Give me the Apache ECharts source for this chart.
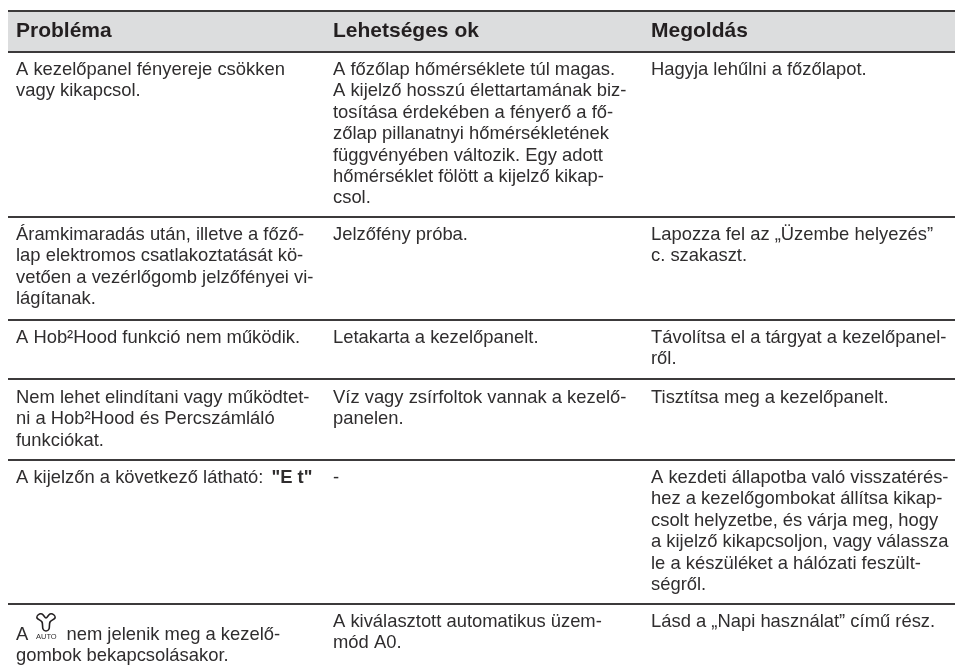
<!DOCTYPE html>
<html>
<head>
<meta charset="utf-8">
<style>html,body{margin:0;padding:0;background:#fff}#main{width:955px;height:672px}</style>
<script src="https://cdn.jsdelivr.net/npm/echarts@6/dist/echarts.min.js"></script>
</head>
<body>
<div id="main"></div>
<script>
const headers = ["Probléma", "Lehetséges ok", "Megoldás"];

// each row: [col lines]
const problems = [
  ["A kezelőpanel fényereje csökken", "vagy kikapcsol."],
  ["Áramkimaradás után, illetve a főző-", "lap elektromos csatlakoztatását kö-", "vetően a vezérlőgomb jelzőfényei vi-", "lágítanak."],
  ["A Hob²Hood funkció nem működik."],
  ["Nem lehet elindítani vagy működtet-", "ni a Hob²Hood és Percszámláló", "funkciókat."],
  ["A kijelzőn a következő látható: {s|}{b|\"E t\"}"],
  ["A {g|} nem jelenik meg a kezelő-", "gombok bekapcsolásakor."]
];
const causes = [
  ["A főzőlap hőmérséklete túl magas.", "A kijelző hosszú élettartamának biz-", "tosítása érdekében a fényerő a fő-", "zőlap pillanatnyi hőmérsékletének", "függvényében változik. Egy adott", "hőmérséklet fölött a kijelző kikap-", "csol."],
  ["Jelzőfény próba."],
  ["Letakarta a kezelőpanelt."],
  ["Víz vagy zsírfoltok vannak a kezelő-", "panelen."],
  ["-"],
  ["A kiválasztott automatikus üzem-", "mód A0."]
];
const solutions = [
  ["Hagyja lehűlni a főzőlapot."],
  ["Lapozza fel az „Üzembe helyezés”", "c. szakaszt."],
  ["Távolítsa el a tárgyat a kezelőpanel-", "ről."],
  ["Tisztítsa meg a kezelőpanelt."],
  ["A kezdeti állapotba való visszatérés-", "hez a kezelőgombokat állítsa kikap-", "csolt helyzetbe, és várja meg, hogy", "a kijelző kikapcsoljon, vagy válassza", "le a készüléket a hálózati feszült-", "ségről."],
  ["Lásd a „Napi használat” című rész."]
];

const colX = [16, 333, 651];
const ruleY = [11, 52, 217, 320, 379, 460, 604];
const firstLineY = [70, 235, 338, 398, 478, 622];
const lineH = 21.4;
const iconRowDrop = 13; // first column of last row sits lower because of the icon
const font = '"Liberation Sans", Arial, sans-serif';
const textColor = "#2f2d2e";
const bodySize = 18.4;

const elements = [];
elements.push({ type: "rect", shape: { x: 8, y: ruleY[0], width: 947, height: ruleY[1] - ruleY[0] }, style: { fill: "#dcddde" } });
ruleY.forEach(function (y) {
  elements.push({ type: "rect", shape: { x: 8, y: y - 1, width: 947, height: 2 }, style: { fill: "#3c3a3b" } });
});
headers.forEach(function (h, i) {
  elements.push({ type: "text", x: colX[i], y: 31, style: { text: h, font: "bold 21px " + font, fill: "#231f20", verticalAlign: "middle" } });
});
[problems, causes, solutions].forEach(function (col, c) {
  col.forEach(function (lines, r) {
    const drop = (c === 0 && r === 5) ? iconRowDrop : 0;
    lines.forEach(function (line, l) {
      elements.push({
        type: "text", x: colX[c], y: firstLineY[r] + drop + l * lineH,
        style: {
          text: line, font: bodySize + "px " + font, fill: textColor, verticalAlign: "middle",
          rich: {
            b: { font: "bold " + bodySize + "px " + font, fill: textColor },
            s: { width: 3 },
            g: { width: 28 }
          }
        }
      });
    });
  });
});
// fan icon in the last row + AUTO
elements.push({
  type: "polygon",
  shape: {
    points: [[38, 615], [42, 614], [46, 618], [50, 614], [54, 615], [55, 618], [50, 622], [49, 629], [46, 631], [43, 629], [42, 622], [37, 618]],
    smooth: 0.3
  },
  style: { fill: "none", stroke: "#231f20", lineWidth: 1.6 }
});
elements.push({ type: "text", x: 36, y: 637, style: { text: "AUTO", font: "7.5px " + font, fill: textColor, verticalAlign: "middle" } });

const chart = echarts.init(document.getElementById("main"), null, { renderer: "canvas" });
chart.setOption({ animation: false, backgroundColor: "#fff", graphic: { elements: elements } });
</script>
</body>
</html>
